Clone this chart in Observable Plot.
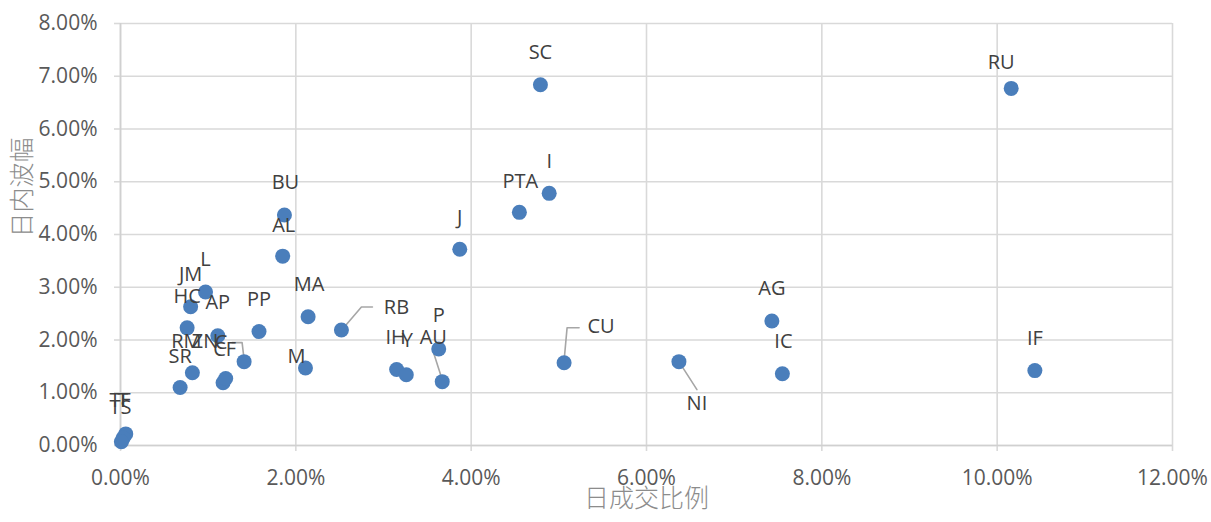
<!DOCTYPE html>
<html>
<head>
<meta charset="utf-8">
<script src="https://cdn.jsdelivr.net/npm/d3@7"></script>
<script src="https://cdn.jsdelivr.net/npm/@observablehq/plot@0.6"></script>
<style>
  html, body { margin: 0; padding: 0; background: #ffffff; }
  #chart { width: 1211px; height: 522px; }
</style>
</head>
<body>
<div id="chart"></div>
<script>
// ---- data (percent values) ----
const names = ["SC","RU","I","PTA","BU","AL","J","L","JM","HC","AP","PP","MA","M","RB","P","AU","IH","Y","CU","NI","AG","IC","IF","SR","RM","ZN","CF","C","T","TF","TS"];
const turnoverPct = [4.79,10.16,4.89,4.55,1.87,1.85,3.87,0.97,0.80,0.76,1.11,1.58,2.14,2.11,2.52,3.63,3.67,3.15,3.26,5.06,6.37,7.43,7.55,10.43,0.68,0.82,1.17,1.20,1.41,0.06,0.03,0.01];
const amplitudePct = [6.84,6.77,4.78,4.42,4.37,3.59,3.72,2.91,2.63,2.23,2.08,2.16,2.44,1.47,2.19,1.83,1.21,1.44,1.34,1.57,1.59,2.36,1.36,1.42,1.10,1.38,1.19,1.27,1.59,0.22,0.14,0.07];
const xTicks = [0, 0.02, 0.04, 0.06, 0.08, 0.10, 0.12];
const yTicks = [0, 0.01, 0.02, 0.03, 0.04, 0.05, 0.06, 0.07, 0.08];
const xTitle = "日成交比例";
const yTitle = "日内波幅";

// ---- layout (pixel offsets of labels from their points; not data) ----
const W = 1211, H = 522;
const M = {left: 120, right: 39, top: 23, bottom: 77};
const labelOffset = {
  SC:[0,-32], RU:[-10,-26], I:[0,-32], PTA:[1,-31], BU:[1,-32], AL:[1,-31], J:[0,-32],
  L:[0,-32], JM:[0,-32], HC:[0,-31], AP:[0,-33], PP:[0,-32], MA:[1,-32], M:[-9,-11],
  RB:[55,-22], P:[0,-33], AU:[-9,-44], IH:[-1,-32], Y:[1,-34], CU:[37,-36], NI:[18,42],
  AG:[0,-32], IC:[1,-32], IF:[0,-32], SR:[0,-31], RM:[-6,-31], ZN:[-18,-41], CF:[-1,-29],
  C:[-23,-19], T:[-3,-33], TF:[-3,-38], TS:[-1,-34]
};
const leaderPath = {
  RB: [[2,-2],[20,-23],[31,-23]],
  CU: [[0,-2],[3,-35],[15,-35]],
  C:  [[0,-2],[-2,-19],[-12,-19]],
  AU: [[0,-2],[-9,-30]],
  NI: [[0,0],[18,28]]
};

const xDomain = [0, 0.12], yDomain = [0, 0.08];
const plotW = W - M.left - M.right, plotH = H - M.top - M.bottom;
const pxX = dx => dx * (xDomain[1] - xDomain[0]) / plotW;
const pxY = dy => -dy * (yDomain[1] - yDomain[0]) / plotH;

const points = names.map((n, i) => ({name: n, x: turnoverPct[i] / 100, y: amplitudePct[i] / 100}));
const labels = points.map(p => {
  const o = labelOffset[p.name] || [0, -32];
  return {name: p.name, x: p.x + pxX(o[0]), y: p.y + pxY(o[1])};
});
const leaders = [];
points.forEach(p => {
  const path = leaderPath[p.name];
  if (!path) return;
  path.forEach(o => leaders.push({name: p.name, x: p.x + pxX(o[0]), y: p.y + pxY(o[1])}));
});

const FONT = "'Open Sans', 'Noto Sans CJK SC', sans-serif";
const CJK = "'Noto Sans CJK SC', sans-serif";
const gridColor = "#d9d9d9";

const chart = Plot.plot({
  width: W, height: H,
  marginLeft: M.left, marginRight: M.right, marginTop: M.top, marginBottom: M.bottom,
  style: {fontFamily: FONT, fontSize: "21px", color: "#595959", background: "#ffffff", overflow: "visible"},
  x: {domain: xDomain, label: null},
  y: {domain: yDomain, label: null},
  marks: [
    Plot.gridX(xTicks, {stroke: gridColor, strokeOpacity: 1, strokeWidth: 1.6}),
    Plot.gridY(yTicks, {stroke: gridColor, strokeOpacity: 1, strokeWidth: 1.6}),
    Plot.axisX(xTicks, {tickFormat: d3.format(".2%"), tickSize: 6, tickPadding: 19, stroke: gridColor, strokeWidth: 1.6, fill: "#595959", label: null, fontSize: 21}),
    Plot.axisY(yTicks, {tickFormat: d3.format(".2%"), tickSize: 6, tickPadding: 17, stroke: gridColor, strokeWidth: 1.6, fill: "#595959", label: null, fontSize: 21}),
    Plot.ruleY([0], {stroke: "#d0d0d0", strokeWidth: 1.6}),
    Plot.ruleX([0], {stroke: "#d0d0d0", strokeWidth: 1.6}),
    Plot.line(leaders, {x: "x", y: "y", z: "name", stroke: "#a6a6a6", strokeWidth: 1.6}),
    Plot.dot(points, {x: "x", y: "y", r: 7.5, fill: "#4a7ebb", stroke: "none"}),
    Plot.text(labels, {x: "x", y: "y", text: "name", fill: "#404040", fontSize: 20, fontFamily: FONT}),
    Plot.text([xTitle], {frameAnchor: "bottom", dy: 61, fill: "#8c8c8c", fontSize: 25, fontWeight: 300, fontFamily: CJK}),
    Plot.text([yTitle], {frameAnchor: "left", dx: -98, dy: 3, rotate: -90, fill: "#8c8c8c", fontSize: 25, fontWeight: 300, fontFamily: CJK})
  ]
});
document.getElementById("chart").appendChild(chart);
</script>
</body>
</html>
